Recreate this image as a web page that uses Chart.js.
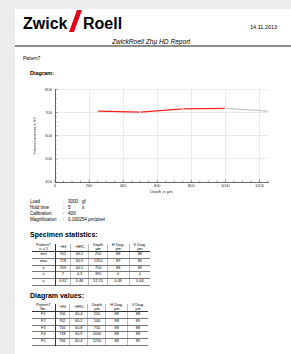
<!DOCTYPE html>
<html>
<head>
<meta charset="utf-8">
<script src="https://cdn.jsdelivr.net/npm/chart.js@4"></script>
<style>
  html, body { margin: 0; padding: 0; }
  body { width: 291px; height: 354px; background: #ececec; position: relative; overflow: hidden; font-family: "Liberation Sans", Arial, sans-serif; color: #000; }
  .page { position: absolute; left: 15px; top: 9px; width: 276px; height: 345px; background: #fff; }
  .abs { position: absolute; white-space: nowrap; }
  .logo { font-weight: bold; font-size: 16px; }
  .slash { position: absolute; left: 73px; top: 10px; width: 5px; height: 22px; background: #e2001a; transform: skewX(-20deg); }
  .small { font-size: 4.5px; line-height: 6px; }
  .small span { position: absolute; }
  .head { font-weight: bold; font-size: 7px; color: #000; }
  table { position: absolute; border-collapse: collapse; font-size: 3.8px; }
  td { padding: 0 1px; text-align: center; height: 5.8px; line-height: 5.8px; border-bottom: 0.6px solid #777; border-left: 0.5px solid #bbb; }
  td:first-child { border-left: none; border-right: 1.6px double #333; }
  tr.hd td { height: 7px; line-height: 3.4px; vertical-align: middle; border-bottom: 0.8px solid #333; }
</style>
</head>
<body>
<div class="page"></div>
<div class="abs logo" style="left:23px; top:15px;">Zwick</div>
<div class="slash"></div>
<div class="abs logo" style="left:83px; top:15px;">Roell</div>
<div class="abs" style="left:250px; top:24px; font-size:5.5px;">14.11.2013</div>
<div class="abs" style="left:112px; top:38px; font-size:6.6px; font-style:italic; text-decoration:underline;">ZwickRoell Zhµ HD Report</div>
<div class="abs" style="left:15px; top:45px; width:276px; height:1.5px; background:#8a8a8a;"></div>
<div class="abs" style="left:23px; top:56px; font-size:4.6px;">Pattern7</div>
<div class="abs" style="left:30px; top:70px; font-size:5.5px; font-weight:bold;">Diagram:</div>

<div class="abs" style="left:33px; top:84px; width:240px; height:110px;">
  <canvas id="chart"></canvas>
</div>

<div class="abs small" style="left:30px; top:199px;">
  <div>Load<span style="left:33px">:</span><span style="left:38px">3000</span><span style="left:52px">gf</span></div>
  <div>Hold time<span style="left:33px">:</span><span style="left:38px">5</span><span style="left:52px">s</span></div>
  <div>Calibration<span style="left:33px">:</span><span style="left:38px">40X</span></div>
  <div>Magnification<span style="left:33px">:</span><span style="left:38px">0.160254 µm/pixel</span></div>
</div>

<div class="abs head" style="left:30px; top:231px;">Specimen statistics:</div>
<table id="stats" style="left:32px; top:244px; width:118px;"></table>

<div class="abs head" style="left:30px; top:292px;">Diagram values:</div>
<table id="values" style="left:32px; top:304px; width:116px;"></table>

<script>
// diagram values (F1..F5)
const pointNames = ['F1', 'F2', 'F3', 'F4', 'F5'];
const depths = [250, 500, 750, 1000, 1250];
const hardnessHV = [706, 702, 716, 718, 706];
const hardnessHRC = ['60.4', '60.2', '60.8', '60.9', '60.4'];
const hDiag = [88, 88, 88, 88, 88];
const vDiag = [88, 89, 88, 88, 89];

// specimen statistics
const statNames = ['min', 'max', 'x̄', 's', 'v'];
const statHV = ['702', '718', '709', '7', '0.92'];
const statHRC = ['60.2', '60.9', '60.5', '0.3', '0.46'];
const statDepth = ['250', '1250', '750', '395', '52.70'];
const statH = ['88', '89', '88', '0', '0.49'];
const statV = ['88', '89', '89', '0', '0.44'];

const yTicks = [400, 500, 600, 700, 800];
const xTicks = [0, 200, 400, 600, 800, 1000, 1200];

function fillTable(id, firstHead, rows) {
    const t = document.getElementById(id);
    let html = '<tr class="hd"><td>' + firstHead + '</td><td>~HV</td><td>~HRC</td><td>Depth<br>µm</td><td>H Diag.<br>µm</td><td>V Diag.<br>µm</td></tr>';
    rows.forEach(r => {
        html += '<tr>' + r.map(c => '<td>' + c + '</td>').join('') + '</tr>';
    });
    t.innerHTML = html;
}

fillTable('stats', 'Pattern7<br>n = 5', statNames.map((n, i) => [n, statHV[i], statHRC[i], statDepth[i], statH[i], statV[i]]));
fillTable('values', 'Pattern7<br>No.', pointNames.map((n, i) => [n, hardnessHV[i], hardnessHRC[i], depths[i], hDiag[i], vDiag[i]]));

// minor ticks drawn through the scales
const minorTicks = {
    id: 'minorTicks',
    afterDraw(chart) {
        const ctx = chart.ctx;
        const x = chart.scales.x, y = chart.scales.y;
        ctx.save();
        ctx.strokeStyle = '#555';
        ctx.lineWidth = 0.6;
        ctx.beginPath();
        for (let v = 400; v <= 800; v += 20) {
            const py = y.getPixelForValue(v);
            ctx.moveTo(x.left, py);
            ctx.lineTo(x.left + (v % 100 === 0 ? 2.5 : 1.5), py);
        }
        for (let v = 0; v <= 1250; v += 50) {
            const px = x.getPixelForValue(v);
            ctx.moveTo(px, y.bottom);
            ctx.lineTo(px, y.bottom - (v % 200 === 0 ? 2.5 : 1.5));
        }
        ctx.stroke();
        ctx.restore();
    }
};

new Chart(document.getElementById('chart'), {
    type: 'line',
    data: {
        datasets: [{
            data: depths.map((d, i) => ({ x: d, y: hardnessHV[i] })),
            borderColor: '#ff2020',
            borderWidth: 1.3,
            pointRadius: 0.8,
            pointBackgroundColor: '#fff',
            pointBorderWidth: 0,
            tension: 0,
            segment: {
                borderColor: c => c.p1DataIndex === depths.length - 1 ? '#c8c8c8' : '#ff2020'
            }
        }]
    },
    options: {
        responsive: true,
        maintainAspectRatio: false,
        animation: false,
        layout: { padding: { top: 3, right: 5, bottom: 0, left: 0 } },
        plugins: { legend: { display: false }, tooltip: { enabled: false } },
        scales: {
            x: {
                type: 'linear',
                min: 0,
                max: 1250,
                afterBuildTicks: s => { s.ticks = xTicks.map(v => ({ value: v })); },
                ticks: { font: { size: 4, family: 'Liberation Sans' }, color: '#333', padding: 1, maxRotation: 0, callback: v => String(v) },
                grid: { color: '#dcdcdc', lineWidth: 0.6, drawTicks: false },
                border: { color: '#444', width: 0.8 },
                title: { display: true, text: 'Depth in µm', font: { size: 4.2, family: 'Liberation Sans' }, color: '#333', padding: 0 }
            },
            y: {
                min: 400,
                max: 800,
                afterBuildTicks: s => { s.ticks = yTicks.map(v => ({ value: v })); },
                afterFit: s => { s.width = 22; },
                ticks: { font: { size: 4, family: 'Liberation Sans' }, color: '#333', padding: 3 },
                grid: { color: '#dcdcdc', lineWidth: 0.6, drawTicks: false },
                border: { color: '#444', width: 0.8 },
                title: { display: true, text: 'Vickers hardness in HV', font: { size: 3.6, family: 'Liberation Sans' }, color: '#333', padding: 0 }
            }
        }
    },
    plugins: [minorTicks]
});
</script>
</body>
</html>
